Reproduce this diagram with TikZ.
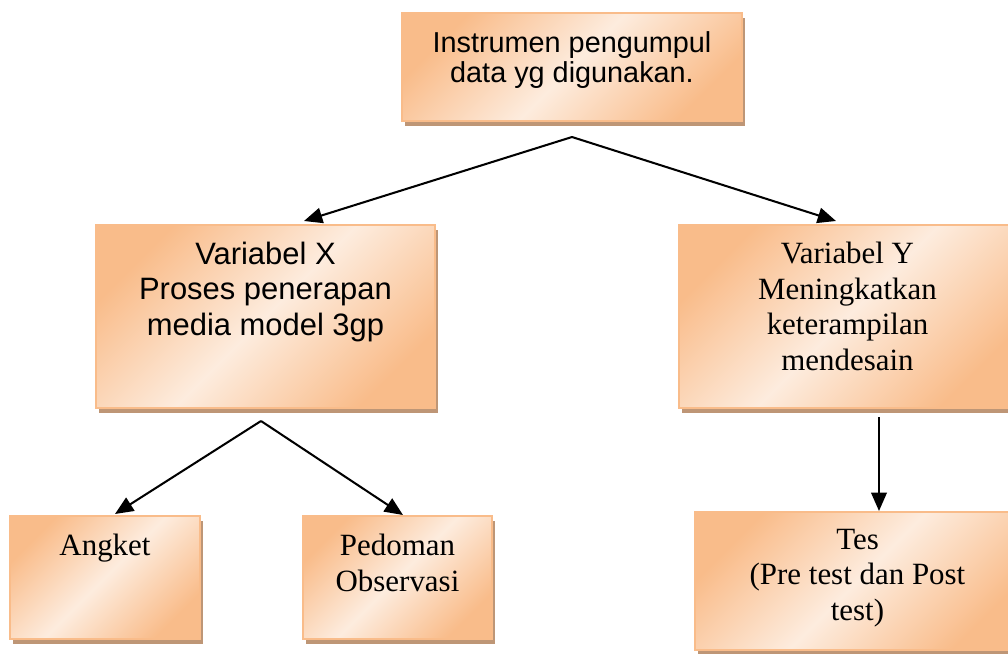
\documentclass[tikz,border=0pt]{standalone}
\usepackage{fontspec}
\setmainfont{Liberation Serif}
\newfontfamily\arialfont{Liberation Sans}
\usetikzlibrary{positioning, arrows.meta, fit, shadows}
\definecolor{peachdark}{RGB}{249,188,138}
\definecolor{peachlight}{RGB}{253,236,222}
\definecolor{shadowtan}{RGB}{190,150,118}
\newcommand{\pxu}{0.025cm}
\tikzset{
  % --- boxes ---
  card/.style     = {draw=peachdark, line width=1.4pt, inner sep=0pt,
                     top color=peachdark, bottom color=peachdark,
                     middle color=peachlight, shading angle=45,
                     drop shadow={shadow xshift=2.5*\pxu, shadow yshift=-5*\pxu,
                                  fill=shadowtan, opacity=1}},
  % --- texts ---
  sanssmall/.style = {font=\arialfont\fontsize{20.5}{21.5}\selectfont,
                      align=center, inner sep=0pt, anchor=north},
  sansbig/.style   = {font=\arialfont\fontsize{22}{25}\selectfont,
                      align=center, inner sep=0pt, anchor=north},
  seriftxt/.style  = {font=\fontsize{22}{25.2}\selectfont,
                      align=center, inner sep=0pt, anchor=north},
  % --- edges ---
  arr/.style      = {-{Triangle[length=13pt, width=11pt]}, line width=1.45pt, black},
}

\begin{document}
\begin{tikzpicture}[x=\pxu, y=-\pxu]
  \useasboundingbox (0,0) rectangle (1008,653);

  % ===================================================================
  %  BOXES
  % ===================================================================
  \node[card, fit={(402,13) (742,121)}]   (instr) {};
  \node[card, fit={(96,225) (435,408)}]   (varX)  {};
  \node[card, fit={(679,225) (1016,408)}] (varY)  {};
  \node[card, fit={(10,516) (200,639)}]   (angk)  {};
  \node[card, fit={(303,516) (492,639)}]  (pedo)  {};
  \node[card, fit={(695,512) (1020,650)}] (tes)   {};

  % ===================================================================
  %  TEXTS
  % ===================================================================
  \node[sanssmall] (instrT) at ([yshift=-19*\pxu]instr.north) {Instrumen pengumpul\\data yg digunakan.};
  \node[sansbig]   (varXT)  at ([yshift=-18*\pxu]varX.north)  {Variabel X\\Proses penerapan\\media model 3gp};
  \node[seriftxt]  (varYT)  at ([yshift=-18*\pxu]varY.north)  {Variabel Y\\Meningkatkan\\keterampilan\\mendesain};
  \node[seriftxt]  (angkT)  at ([yshift=-19*\pxu]angk.north)  {Angket};
  \node[seriftxt]  (pedoT)  at ([yshift=-19*\pxu]pedo.north)  {Pedoman\\Observasi};
  \node[seriftxt]  (tesT)   at ([yshift=-18*\pxu]tes.north)   {Tes\\(Pre test dan Post\\test)};

  % ===================================================================
  %  CONNECTORS
  % ===================================================================
  \coordinate (jTop)   at (572,137);
  \coordinate (tipX)   at (304,221);
  \coordinate (tipY)   at (836,221);
  \coordinate (jX)     at (261,421);
  \coordinate (tipAng) at (115,514);
  \coordinate (tipPed) at (403,515);
  \coordinate (jY)     at (879,417);
  \coordinate (tipTes) at (879,511);

  \draw[arr] (jTop) -- (tipX);
  \draw[arr] (jTop) -- (tipY);
  \draw[arr] (jX) -- (tipAng);
  \draw[arr] (jX) -- (tipPed);
  \draw[arr] (jY) -- (tipTes);

\end{tikzpicture}
\end{document}
